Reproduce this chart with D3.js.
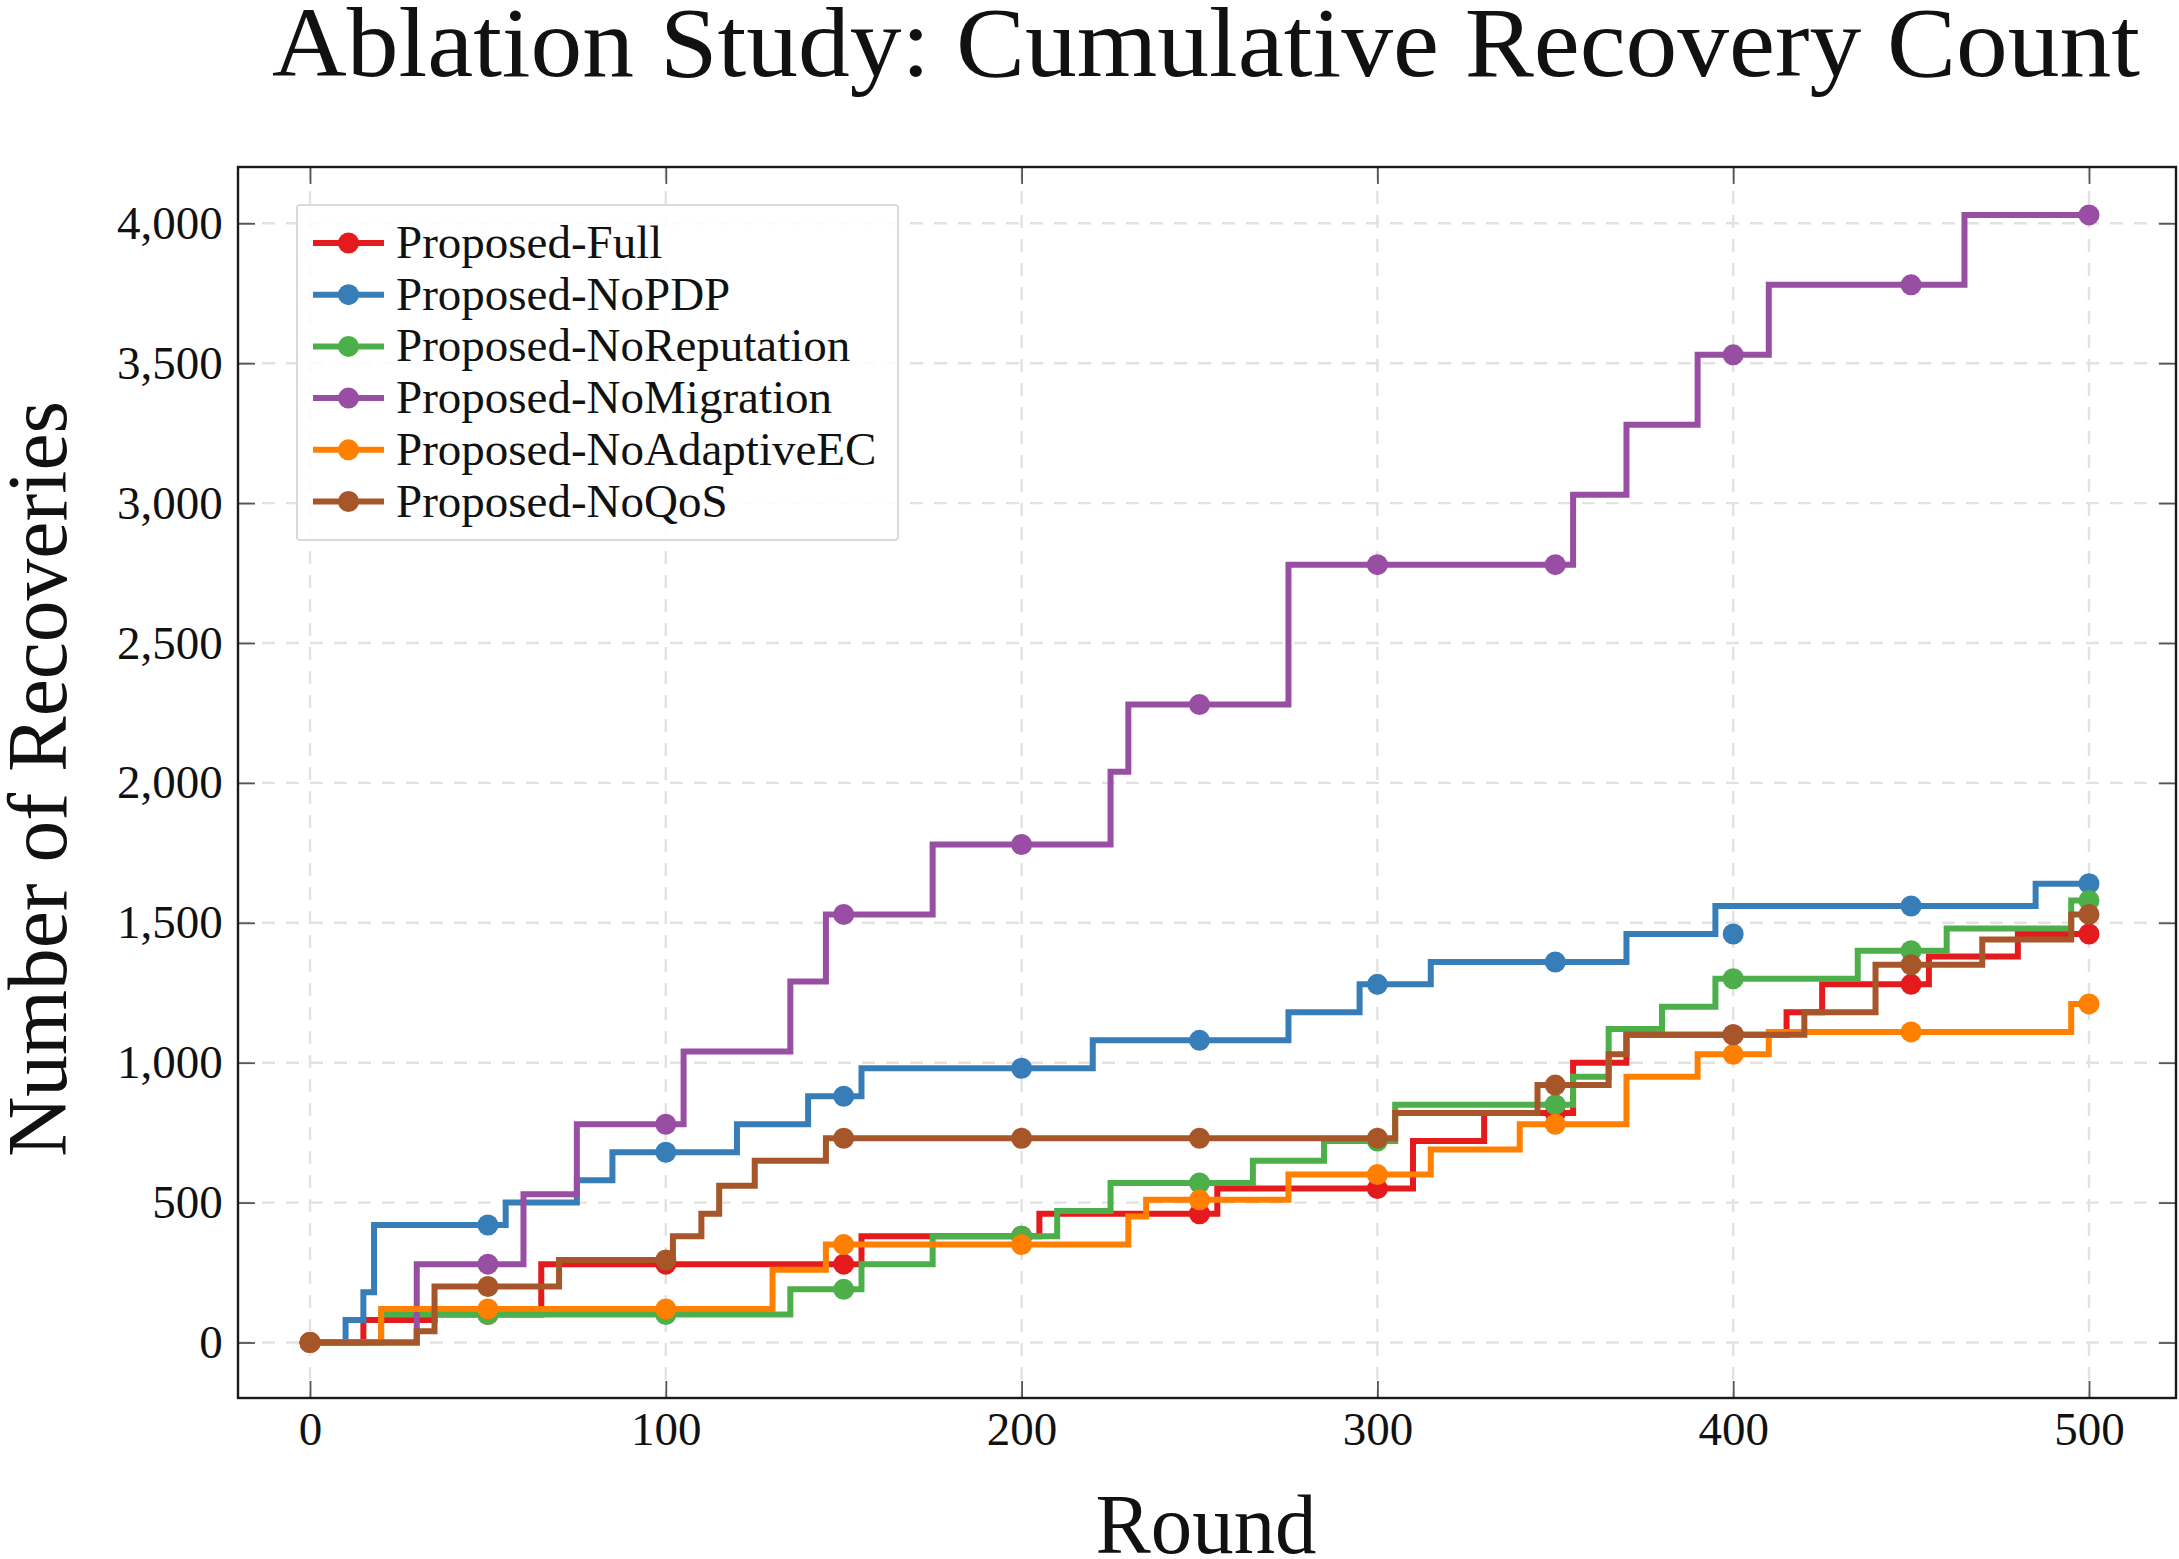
<!DOCTYPE html>
<html>
<head>
<meta charset="utf-8">
<script src="https://cdn.jsdelivr.net/npm/d3@7"></script>
<style>
  html, body { margin: 0; padding: 0; background: #fff; }
  svg { display: block; }
  text { font-family: "Liberation Serif", "DejaVu Serif", serif; fill: #111; }
</style>
</head>
<body>
<div id="chart"></div>
<script>
// ---------------- data ----------------
const markerRounds = [0, 50, 100, 150, 200, 250, 300, 350, 400, 450, 500];
const xTicks = [0, 100, 200, 300, 400, 500];
const yTicks = [0, 500, 1000, 1500, 2000, 2500, 3000, 3500, 4000];
const seriesNames = ["Proposed-Full", "Proposed-NoPDP", "Proposed-NoReputation",
                     "Proposed-NoMigration", "Proposed-NoAdaptiveEC", "Proposed-NoQoS"];
const seriesColors = ["#e41a1c", "#377eb8", "#4daf4a", "#984ea3", "#ff7f00", "#a65628"];

// step points: [round at which the count changes, new cumulative count]
const fullSteps = [[0,0],[15,80],[35,100],[65,280],[155,380],[205,460],[255,550],[310,720],[330,820],[355,1000],[370,1100],[415,1180],[425,1280],[455,1380],[480,1460]];
const fullMarkers = [0,100,280,280,380,460,550,820,1100,1280,1460];

const noPdpSteps = [[0,0],[10,80],[15,180],[18,420],[55,500],[75,580],[85,680],[120,780],[140,880],[155,980],[220,1080],[275,1180],[295,1280],[315,1360],[370,1460],[395,1560],[485,1640]];
const noPdpMarkers = [0,420,680,880,980,1080,1280,1360,1460,1560,1640];

const noRepSteps = [[0,0],[20,100],[135,190],[155,280],[175,380],[210,470],[225,570],[265,650],[285,720],[305,850],[355,950],[365,1120],[380,1200],[395,1300],[435,1400],[460,1480],[495,1580]];
const noRepMarkers = [0,100,100,190,380,570,720,850,1300,1400,1580];

const noMigSteps = [[0,0],[30,280],[60,530],[75,780],[105,1040],[135,1290],[145,1530],[175,1780],[225,2040],[230,2280],[275,2780],[355,3030],[370,3280],[390,3530],[410,3780],[465,4030]];
const noMigMarkers = [0,280,780,1530,1780,2280,2780,2780,3530,3780,4030];

const noAecSteps = [[0,0],[20,120],[130,260],[145,350],[230,450],[235,510],[275,600],[315,690],[340,780],[370,950],[390,1030],[410,1110],[495,1210]];
const noAecMarkers = [0,120,120,350,350,510,600,780,1030,1110,1210];

const noQosSteps = [[0,0],[30,40],[35,200],[70,295],[102,380],[110,460],[115,560],[125,650],[145,730],[305,820],[345,920],[365,1030],[370,1100],[420,1180],[440,1350],[470,1440],[495,1530]];
const noQosMarkers = [0,200,295,730,730,730,730,920,1100,1350,1530];

const allSteps = [fullSteps, noPdpSteps, noRepSteps, noMigSteps, noAecSteps, noQosSteps];
const allMarkers = [fullMarkers, noPdpMarkers, noRepMarkers, noMigMarkers, noAecMarkers, noQosMarkers];
const lastRound = 500;

// ---------------- layout ----------------
const W = 2179, H = 1559;
const frame = { left: 238, right: 2176, top: 167, bottom: 1398 };

const x = d3.scaleLinear().domain([0, 500]).range([310, 2089]);
const y = d3.scaleLinear().domain([0, 4000]).range([1342.5, 223.3]);

const svg = d3.select("#chart").append("svg")
  .attr("width", W).attr("height", H)
  .attr("viewBox", `0 0 ${W} ${H}`);

svg.append("rect").attr("width", W).attr("height", H).attr("fill", "#fff");

// grid
const grid = svg.append("g").attr("stroke", "#e2e2e2").attr("stroke-width", 2.4)
  .attr("stroke-dasharray", "13,11");
grid.selectAll(".vg").data(xTicks).join("line")
  .attr("x1", d => x(d)).attr("x2", d => x(d))
  .attr("y1", frame.top).attr("y2", frame.bottom);
grid.selectAll(".hg").data(yTicks).join("line")
  .attr("x1", frame.left).attr("x2", frame.right)
  .attr("y1", d => y(d)).attr("y2", d => y(d));

// axes via d3 axis (ticks inward), labels
const tickLen = 17;
const axB = d3.axisBottom(x).tickValues(xTicks).tickSize(-tickLen).tickFormat(d3.format("d")).tickPadding(0);
const axT = d3.axisTop(x).tickValues(xTicks).tickSize(-tickLen).tickFormat("");
const axL = d3.axisLeft(y).tickValues(yTicks).tickSize(-tickLen).tickFormat(d3.format(",")).tickPadding(0);
const axR = d3.axisRight(y).tickValues(yTicks).tickSize(-tickLen).tickFormat("");

function styleAxis(g) {
  g.select(".domain").remove();
  g.selectAll(".tick line").attr("stroke", "#555").attr("stroke-width", 1.8);
  g.selectAll(".tick text").attr("fill", "#111")
    .style("font-family", '"Liberation Serif", "DejaVu Serif", serif')
    .style("font-size", "47px");
}
const gB = svg.append("g").attr("transform", `translate(0,${frame.bottom})`).call(axB).call(styleAxis);
gB.selectAll(".tick text").attr("y", 47).attr("dy", 0);
svg.append("g").attr("transform", `translate(0,${frame.top})`).call(axT).call(styleAxis);
const gL = svg.append("g").attr("transform", `translate(${frame.left},0)`).call(axL).call(styleAxis);
gL.selectAll(".tick text").attr("x", 222.7 - frame.left).attr("dy", "0.32em").attr("text-anchor", "end");
svg.append("g").attr("transform", `translate(${frame.right},0)`).call(axR).call(styleAxis);

// series
const line = d3.line().x(d => x(d[0])).y(d => y(d[1])).curve(d3.curveStepAfter);
const plot = svg.append("g");
allSteps.forEach((steps, i) => {
  const pts = steps.concat([[lastRound, steps[steps.length - 1][1]]]);
  const g = plot.append("g");
  g.append("path").datum(pts).attr("d", line)
    .attr("fill", "none").attr("stroke", seriesColors[i])
    .attr("stroke-width", 6).attr("stroke-linejoin", "miter").attr("stroke-linecap", "butt");
  g.selectAll("circle").data(markerRounds.map((r, k) => [r, allMarkers[i][k]])).join("circle")
    .attr("cx", d => x(d[0])).attr("cy", d => y(d[1])).attr("r", 10.5)
    .attr("fill", seriesColors[i]);
});

// frame
svg.append("rect")
  .attr("x", frame.left).attr("y", frame.top)
  .attr("width", frame.right - frame.left).attr("height", frame.bottom - frame.top)
  .attr("fill", "none").attr("stroke", "#1a1a1a").attr("stroke-width", 2.4);

// legend
const leg = svg.append("g");
leg.append("rect").attr("x", 297).attr("y", 205).attr("width", 601).attr("height", 335)
  .attr("rx", 3).attr("fill", "#fff").attr("fill-opacity", 0.85)
  .attr("stroke", "#dadada").attr("stroke-width", 2);
seriesNames.forEach((name, i) => {
  const cy = 243 + i * 51.7;
  leg.append("line").attr("x1", 313).attr("x2", 384).attr("y1", cy).attr("y2", cy)
    .attr("stroke", seriesColors[i]).attr("stroke-width", 6);
  leg.append("circle").attr("cx", 348.5).attr("cy", cy).attr("r", 10.5).attr("fill", seriesColors[i]);
  leg.append("text").attr("x", 396).attr("y", cy + 15).style("font-size", "47px").text(name);
});

// title and axis labels
svg.append("text").attr("x", 1206).attr("y", 76).attr("text-anchor", "middle")
  .style("font-size", "100px").attr("textLength", 1868).attr("lengthAdjust", "spacingAndGlyphs")
  .text("Ablation Study: Cumulative Recovery Count");
svg.append("text").attr("x", 1206).attr("y", 1553).attr("text-anchor", "middle")
  .style("font-size", "84px").attr("textLength", 221).attr("lengthAdjust", "spacingAndGlyphs")
  .text("Round");
svg.append("text").attr("transform", "translate(66,779) rotate(-90)").attr("text-anchor", "middle")
  .style("font-size", "84px").attr("textLength", 756).attr("lengthAdjust", "spacingAndGlyphs")
  .text("Number of Recoveries");
</script>
</body>
</html>
